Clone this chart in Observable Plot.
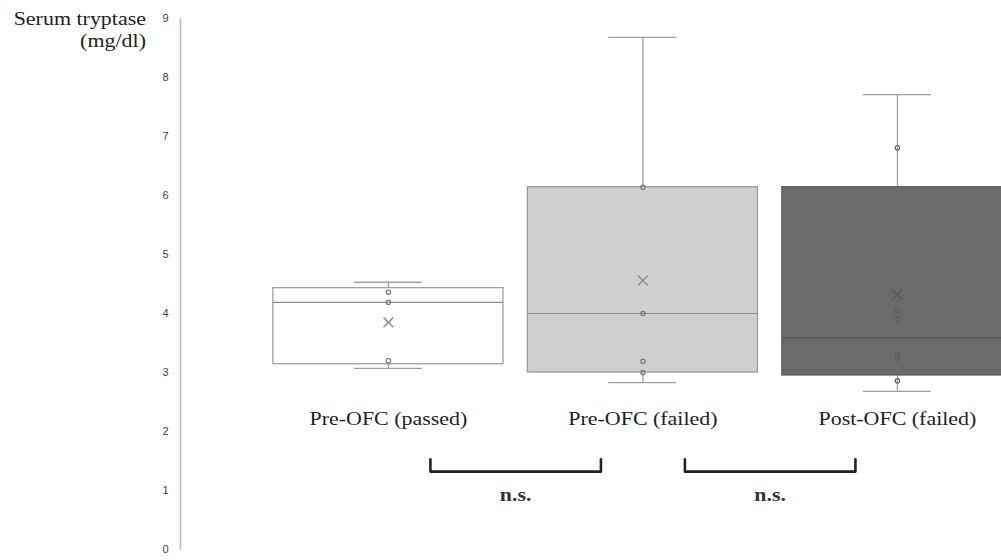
<!DOCTYPE html>
<html>
<head>
<meta charset="utf-8">
<script src="https://cdn.jsdelivr.net/npm/d3@7"></script>
<script src="https://cdn.jsdelivr.net/npm/@observablehq/plot@0.6"></script>
<style>
  html, body { margin: 0; padding: 0; background: #fff; overflow: hidden; }
  #wrap { position: relative; width: 1001px; height: 560px; }
  #ytitle { position: absolute; left: 0; top: 8px; width: 146px; text-align: right;
    font-family: "Liberation Serif", "DejaVu Serif", serif; font-size: 18px; line-height: 22px; color: #222;
    transform: scaleX(1.22); transform-origin: right top; z-index: 2; }
</style>
</head>
<body>
<div id="wrap">
  <div id="ytitle">Serum tryptase<br>(mg/dl)</div>
</div>
<script>
// ---- data ----
const groups = ["Pre-OFC (passed)", "Pre-OFC (failed)", "Post-OFC (failed)"];
const q1 = [3.14, 3.00, 2.95];
const median = [4.19, 4.00, 3.59];
const q3 = [4.43, 6.14, 6.14];
const whiskerLow = [3.07, 2.83, 2.68];
const whiskerHigh = [4.53, 8.68, 7.71];
const means = [3.85, 4.56, 4.32];
const points = [
  [4.36, 4.19, 3.20],
  [6.14, 4.00, 3.19, 3.00],
  [6.81, 4.05, 3.90, 3.30, 3.24, 2.86]
];
const yTicks = [0, 1, 2, 3, 4, 5, 6, 7, 8, 9];
const comparisons = [
  {from: 0, to: 1, label: "n.s."},
  {from: 1, to: 2, label: "n.s."}
];
const boxFills = ["#ffffff", "#d0d0d0", "#6b6b6b"];
const boxStrokes = ["#a0a0a0", "#9a9a9a", "#5a5a5a"];

// ---- layout constants (styling, not data) ----
const halfBox = 0.452;
const halfCap = 0.134;
const labelLevel = 2.2;
const bracketTop = 1.53, bracketBottom = 1.32, bracketInset = 0.165, nsLevel = 0.92;
const textStretch = 1.22;

const boxes = groups.map((g, i) => ({
  i, g, q1: q1[i], median: median[i], q3: q3[i],
  lo: whiskerLow[i], hi: whiskerHigh[i], mean: means[i],
  fill: boxFills[i], stroke: boxStrokes[i]
}));
const pts = points.flatMap((arr, i) => arr.map(v => ({i, v})));
const bracketPts = comparisons.flatMap((c, k) => [
  {k, x: c.from + bracketInset, y: bracketTop},
  {k, x: c.from + bracketInset, y: bracketBottom},
  {k, x: c.to - bracketInset, y: bracketBottom},
  {k, x: c.to - bracketInset, y: bracketTop}
]);

const serif = "Liberation Serif, DejaVu Serif, serif";

const chart = Plot.plot({
  width: 1001,
  height: 560,
  marginTop: 18,
  marginBottom: 11,
  marginLeft: 180,
  marginRight: 0,
  style: {background: "transparent", fontFamily: "Liberation Sans, Arial, sans-serif"},
  x: {type: "linear", domain: [-0.817, 2.409], axis: null},
  y: {domain: [0, 9], axis: null},
  marks: [
    Plot.frame({anchor: "left", stroke: "#bdbdbd", strokeWidth: 1.5}),
    Plot.axisY({ticks: yTicks, tickSize: 0, tickPadding: 12, label: null,
      fontSize: 11, fill: "#444", tickFormat: d3.format("d")}),
    // whiskers
    Plot.ruleX(boxes, {x: "i", y1: "q3", y2: "hi", stroke: "#a0a0a0", strokeWidth: 1.3}),
    Plot.ruleX(boxes, {x: "i", y1: "lo", y2: "q1", stroke: "#a0a0a0", strokeWidth: 1.3}),
    Plot.ruleY(boxes, {y: "hi", x1: d => d.i - halfCap, x2: d => d.i + halfCap, stroke: "#a0a0a0", strokeWidth: 1.3}),
    Plot.ruleY(boxes, {y: "lo", x1: d => d.i - halfCap, x2: d => d.i + halfCap, stroke: "#a0a0a0", strokeWidth: 1.3}),
    // boxes
    Plot.rect(boxes, {x1: d => d.i - halfBox, x2: d => d.i + halfBox, y1: "q1", y2: "q3",
      fill: "fill", stroke: "stroke", strokeWidth: 1.3, clip: true}),
    // medians
    Plot.ruleY(boxes, {y: "median", x1: d => d.i - halfBox, x2: d => d.i + halfBox,
      stroke: d => d.i === 2 ? "#555" : "#8a8a8a", strokeWidth: 1.2, clip: true}),
    // data points
    Plot.dot(pts, {x: "i", y: "v", r: 2.2, stroke: d => d.i === 2 ? "#5e5e5e" : "#7a7a7a", fill: "none", strokeWidth: 1.2}),
    // means
    Plot.dot(boxes, {x: "i", y: "mean", symbol: "times", r: 4.5, stroke: d => d.i === 2 ? "#555" : "#808080", strokeWidth: 1.2}),
    // category labels
    Plot.text(boxes, {x: "i", y: () => labelLevel, text: "g", fontFamily: serif, fontSize: 18, fill: "#222"}),
    // brackets
    Plot.line(bracketPts, {x: "x", y: "y", z: "k", stroke: "#222", strokeWidth: 2.6, strokeLinejoin: "round", strokeLinecap: "round"}),
    Plot.text(comparisons, {x: d => (d.from + d.to) / 2, y: () => nsLevel, text: "label",
      fontFamily: serif, fontSize: 18, fontWeight: "bold", fill: "#333"})
  ]
});
chart.style.position = "absolute";
chart.style.left = "0";
chart.style.top = "0";
document.getElementById("wrap").appendChild(chart);

// widen the serif labels horizontally, as in the reference image
const stretchTexts = new Set([...groups, ...comparisons.map(c => c.label)]);
chart.querySelectorAll("text").forEach(t => {
  if (!stretchTexts.has(t.textContent)) return;
  const tr = t.getAttribute("transform");
  if (tr) {
    t.setAttribute("transform", tr + ` scale(${textStretch},1)`);
  } else {
    const x = +(t.getAttribute("x") || 0), y = +(t.getAttribute("y") || 0);
    t.removeAttribute("x"); t.removeAttribute("y");
    t.setAttribute("transform", `translate(${x},${y}) scale(${textStretch},1)`);
  }
});
</script>
</body>
</html>
